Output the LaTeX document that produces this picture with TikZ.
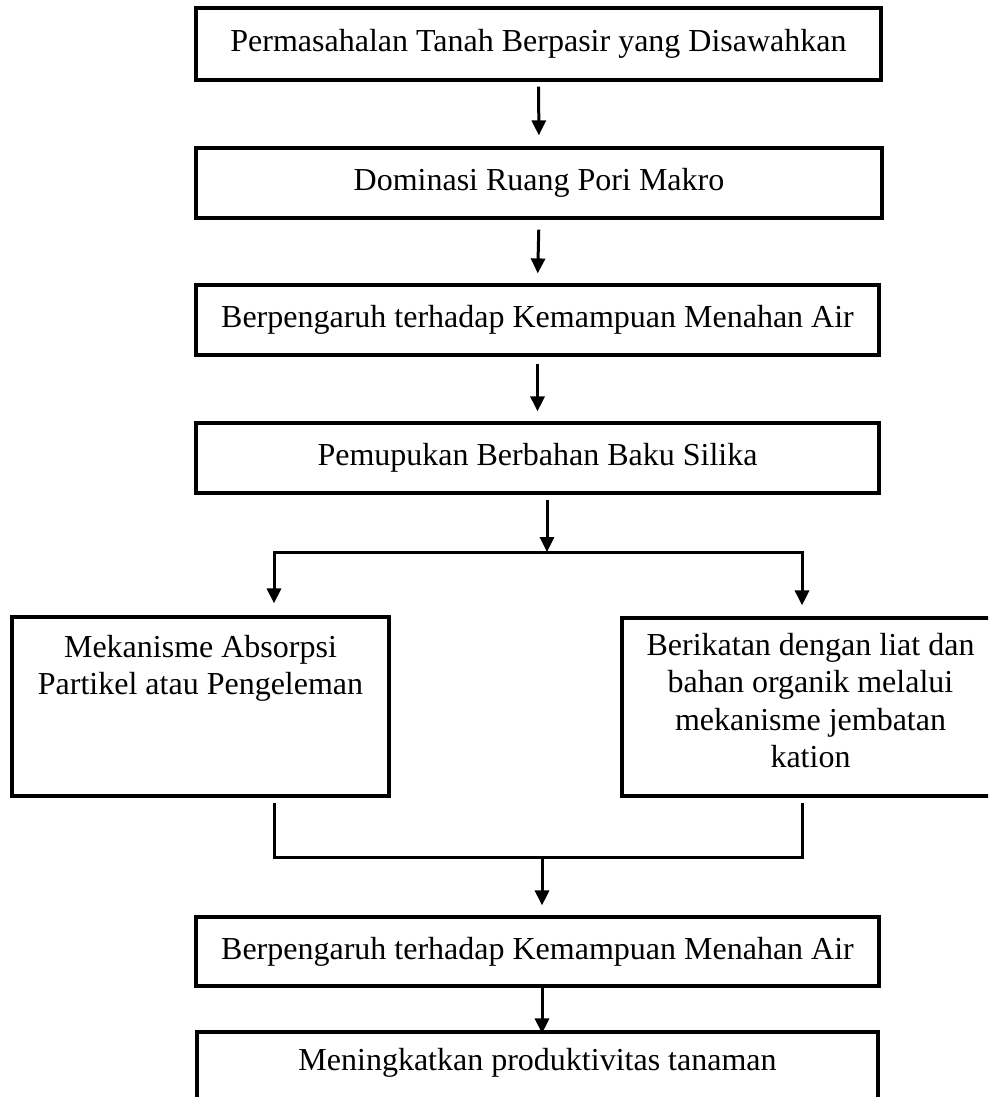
\documentclass[tikz,border=0pt]{standalone}
\usepackage{fontspec}
\setmainfont{Liberation Serif}
\usetikzlibrary{arrows.meta}
\begin{document}
\begin{tikzpicture}[x=1pt,y=-1pt,
  box/.style={draw, line width=3.2pt, inner sep=0pt, font=\fontsize{32}{37.5}\selectfont},
  txt/.style={inner sep=0pt, align=center, font=\fontsize{32}{37.5}\selectfont},
  arr/.style={line width=3pt, -{Triangle[length=15pt,width=14pt]}},
  ln/.style={line width=3pt}]
\useasboundingbox (0,0) rectangle (988,1097);
\clip (0,0) rectangle (988,1097);
% main boxes
\node[box, minimum width=685pt, minimum height=72pt] (b1) at (538.5,44) {Permasahalan Tanah Berpasir yang Disawahkan};
\node[box, minimum width=686pt, minimum height=70pt] (b2) at (539,183) {Dominasi Ruang Pori Makro};
\node[box, minimum width=683pt, minimum height=70pt] (b3) at (537.5,320) {Berpengaruh terhadap Kemampuan Menahan Air};
\node[box, minimum width=683pt, minimum height=70pt] (b4) at (537.5,458) {Pemupukan Berbahan Baku Silika};
% side boxes
\node[box, minimum width=377pt, minimum height=179pt] (bl) at (200.5,706.5) {};
\node[txt, anchor=north] (blt) at (200.5,635) {Mekanisme Absorpsi\\Partikel atau Pengeleman};
\node[box, minimum width=377pt, minimum height=178pt] (br) at (810.5,707) {};
\node[txt, anchor=north] (brt) at (810.5,633) {Berikatan dengan liat dan\\bahan organik melalui\\mekanisme jembatan\\kation};
% lower boxes
\node[box, minimum width=683pt, minimum height=69pt] (b7) at (537.5,951.5) {Berpengaruh terhadap Kemampuan Menahan Air};
\node[box, minimum width=681pt, minimum height=120pt] (b8) at (537.5,1092) {};
\node[txt] (b8t) at (537.5,1063) {Meningkatkan produktivitas tanaman};
% junction coordinates
\coordinate (j1) at (547,552);
\coordinate (jl) at (274,552);
\coordinate (jr) at (802,552);
\coordinate (kl) at (274,803);
\coordinate (kr) at (802,803);
\coordinate (m) at (542,857);
% connectors
\draw[arr, shorten <=5pt, shorten >=11pt] (b1.south) -- (b2.north);
\draw[arr, shorten <=10pt, shorten >=10pt] (b2.south) -- (b3.north);
\draw[arr, shorten <=7pt, shorten >=10pt] (b3.south) -- (b4.north);
\draw[arr, shorten <=5pt] (b4.south -| j1) -- (j1);
\draw[arr, shorten >=12pt] (j1) -| (jl |- bl.north);
\draw[arr, shorten >=11pt] (j1) -| (jr |- br.north);
\draw[ln] (kl) |- (m) -| (kr);
\draw[arr, shorten >=10pt] (m) -- (m |- b7.north);
\draw[arr, shorten >=-3pt] (b7.south -| m) -- (m |- b8.north);
\end{tikzpicture}
\end{document}
